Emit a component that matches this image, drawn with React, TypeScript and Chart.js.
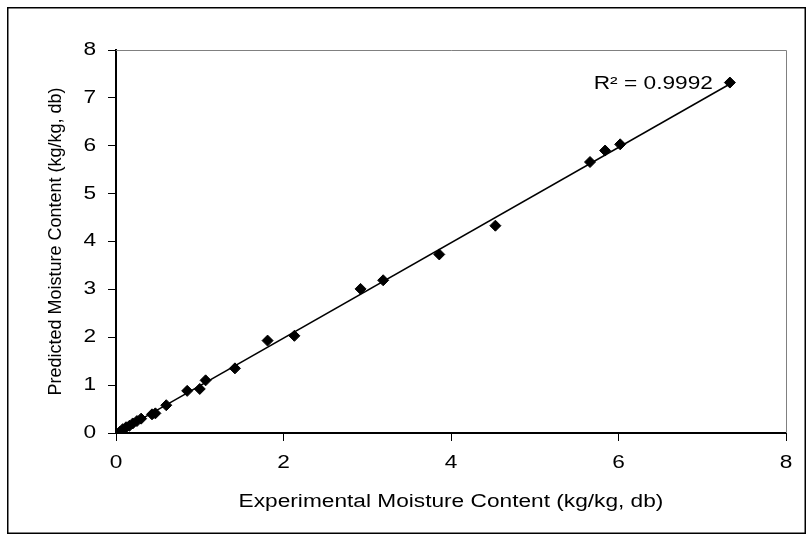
import React, { useEffect, useRef } from 'react';
import { Chart, registerables, LinearScale } from 'chart.js';

Chart.register(...registerables);

// ---- Data ----
const experimental = [0.05, 0.08, 0.12, 0.16, 0.2, 0.25, 0.3, 0.43, 0.47, 0.6, 0.85, 1.0, 1.07, 1.42, 1.81, 2.13, 2.92, 3.19, 3.86, 4.53, 5.66, 5.84, 6.02, 7.33];
const predicted = [0.03, 0.08, 0.12, 0.15, 0.2, 0.25, 0.3, 0.39, 0.41, 0.58, 0.88, 0.92, 1.1, 1.35, 1.93, 2.03, 3.01, 3.19, 3.73, 4.33, 5.66, 5.9, 6.03, 7.32];
const trendX = [0.05, 7.33];
const trendY = [0.04, 7.29];
const r2Label = 'R² = 0.9992';
const xTitle = 'Experimental Moisture Content (kg/kg, db)';
const yTitle = 'Predicted Moisture Content (kg/kg, db)';
const axisMin = 0;
const axisMax = 8;
const xStep = 2;
const yStep = 1;

const FONT_FAMILY = '"Liberation Sans", Arial, Helvetica, sans-serif';
const FONT_SIZE = 18;
const STRETCH = 1.26; // the reference text is horizontally widened

class StretchedLinearScale extends LinearScale {
  static id = 'stretchedLinear';

  drawTitle(...args: any[]) {
    const self: any = this;
    const ctx: any = self.ctx;
    if (self.isHorizontal()) {
      const cx = (self.left + self.right) / 2;
      ctx.save();
      ctx.translate(cx, 0);
      ctx.scale(STRETCH, 1);
      ctx.translate(-cx, 0);
      // @ts-ignore
      super.drawTitle(...args);
      ctx.restore();
    } else {
      // @ts-ignore
      super.drawTitle(...args);
    }
  }

  drawLabels(chartArea: any) {
    const self: any = this;
    if (!self.options.ticks.display) return;
    const ctx: any = self.ctx;
    const items = self.getLabelItems(chartArea);
    for (const item of items) {
      const o = item.options;
      const [tx, ty] = o.translation;
      ctx.save();
      ctx.translate(tx, ty);
      if (o.rotation) ctx.rotate(o.rotation);
      ctx.scale(STRETCH, 1);
      ctx.font = item.font.string;
      ctx.fillStyle = o.color;
      ctx.textAlign = o.textAlign;
      ctx.textBaseline = o.textBaseline;
      const lines = Array.isArray(item.label) ? item.label : [item.label];
      lines.forEach((line: string, i: number) => {
        ctx.fillText(line, 0, item.textOffset + i * item.font.lineHeight);
      });
      ctx.restore();
    }
  }
}
Chart.register(StretchedLinearScale as any);

const framePlugin = {
  id: 'frameAndLabel',
  beforeDraw(chart: any) {
    const { ctx, width, height } = chart;
    ctx.save();
    ctx.fillStyle = '#fff';
    ctx.fillRect(0, 0, width, height);
    ctx.restore();
  },
  afterDraw(chart: any) {
    const { ctx, chartArea: a, width, height } = chart;
    ctx.save();
    // plot frame (top & right)
    ctx.strokeStyle = '#808080';
    ctx.lineWidth = 1;
    ctx.beginPath();
    ctx.moveTo(a.left, Math.round(a.top) + 0.5);
    ctx.lineTo(Math.round(a.right) + 0.5, Math.round(a.top) + 0.5);
    ctx.lineTo(Math.round(a.right) + 0.5, a.bottom);
    ctx.stroke();
    // outer border
    ctx.strokeStyle = '#000';
    ctx.lineWidth = 1.5;
    ctx.strokeRect(0.75, 0.75, width - 1.5, height - 1.5);
    // R² label next to the last point
    const xs = chart.scales.x;
    const ys = chart.scales.y;
    const i = experimental.length - 1;
    const px = xs.getPixelForValue(experimental[i]);
    const py = ys.getPixelForValue(predicted[i]);
    ctx.translate(px - 17, py + 1);
    ctx.scale(STRETCH, 1);
    ctx.font = `${FONT_SIZE}px ${FONT_FAMILY}`;
    ctx.fillStyle = '#000';
    ctx.textAlign = 'right';
    ctx.textBaseline = 'middle';
    ctx.fillText(r2Label, 0, 0);
    ctx.restore();
  },
};

export default function App() {
  const canvasRef = useRef<HTMLCanvasElement>(null);

  useEffect(() => {
    const font = { family: FONT_FAMILY, size: FONT_SIZE };
    const chart = new Chart(canvasRef.current as HTMLCanvasElement, {
      type: 'scatter',
      data: {
        datasets: [
          {
            label: 'data',
            data: experimental.map((x, i) => ({ x, y: predicted[i] })),
            pointStyle: 'rectRot',
            pointRadius: 5.5,
            pointBackgroundColor: '#000',
            pointBorderColor: '#000',
            pointBorderWidth: 1,
            showLine: false,
            order: 0,
          },
          {
            type: 'line',
            label: 'trend',
            data: trendX.map((x, i) => ({ x, y: trendY[i] })),
            borderColor: '#000',
            borderWidth: 1.5,
            pointRadius: 0,
            showLine: true,
            fill: false,
            order: 1,
          } as any,
        ],
      },
      options: {
        animation: false,
        responsive: true,
        maintainAspectRatio: false,
        layout: { padding: { left: 0, top: 43, right: 20, bottom: 0 } },
        plugins: {
          legend: { display: false },
          tooltip: { enabled: false },
        },
        scales: {
          x: {
            type: 'stretchedLinear' as any,
            min: axisMin,
            max: axisMax,
            ticks: { stepSize: xStep, color: '#000', font, padding: 11, maxRotation: 0 },
            grid: { drawOnChartArea: false, drawTicks: true, tickLength: 8, color: '#000', lineWidth: 1 },
            border: { display: true, color: '#000', width: 2 },
            title: { display: true, text: xTitle, color: '#000', font, padding: 21 },
            afterFit: (s: any) => {
              s.height = 101;
            },
          },
          y: {
            type: 'stretchedLinear' as any,
            min: axisMin,
            max: axisMax,
            ticks: { stepSize: yStep, color: '#000', font, padding: 12 },
            grid: { drawOnChartArea: false, drawTicks: true, tickLength: 8, color: '#000', lineWidth: 1 },
            border: { display: true, color: '#000', width: 2 },
            title: { display: true, text: yTitle, color: '#000', font, padding: 38 },
            afterFit: (s: any) => {
              s.width = 109;
            },
          },
        } as any,
      },
      plugins: [framePlugin],
    });
    return () => chart.destroy();
  }, []);

  return (
    <div style={{ position: 'fixed', left: 7, top: 7, width: 799, height: 527 }}>
      <canvas ref={canvasRef} style={{ display: 'block' }} />
    </div>
  );
}
